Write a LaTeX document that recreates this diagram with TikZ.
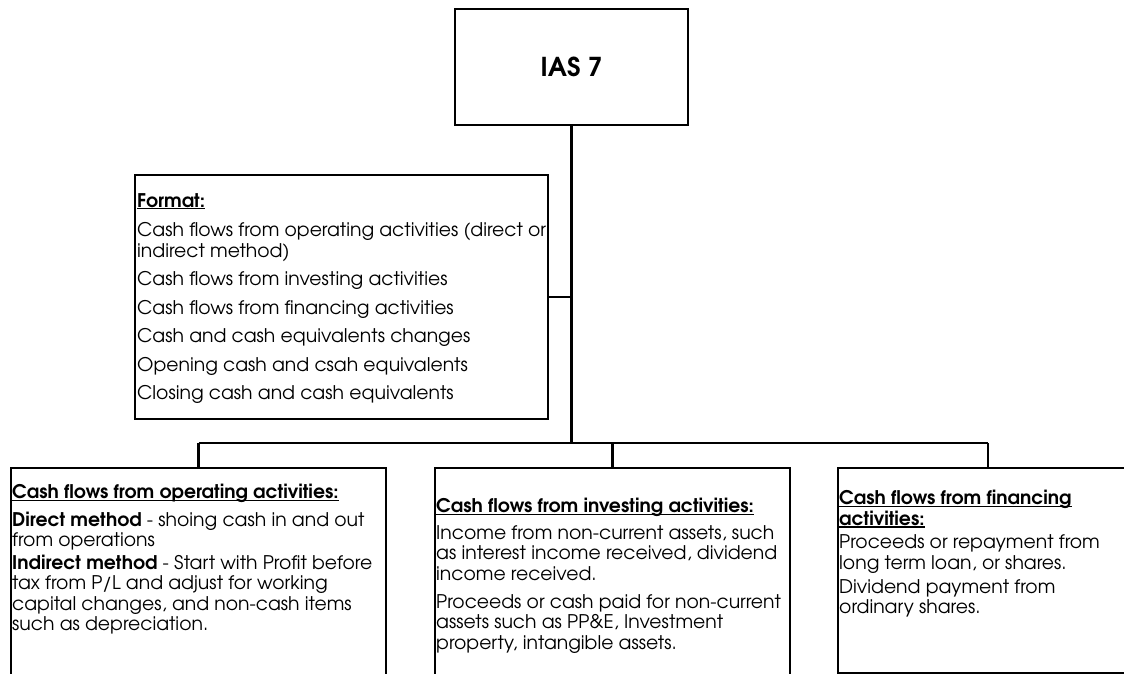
\documentclass[tikz,border=0pt]{standalone}
\usepackage{fontspec}
\setmainfont{TeX Gyre Adventor}
\newcommand\ulbox[1]{\setbox0\hbox{#1}\rlap{\rule[-2.4pt]{\wd0}{1.2pt}}\box0}
\tikzset{
  frame/.style={draw=black, line width=2pt, inner sep=0pt},
  link/.style={draw=black, line width=2.4pt},
  body/.style={anchor=north west, align=left, inner sep=0pt,
    font=\fontsize{18.8}{20.5}\selectfont}
}
\begin{document}
\begin{tikzpicture}[x=1pt,y=-1pt]
\useasboundingbox (0,0) rectangle (1124,674);
% top box
\node[frame, minimum width=233pt, minimum height=116pt,
  font=\fontsize{26}{30}\selectfont\bfseries] (ias) at (571.5,67) {IAS 7};
% format box
\node[frame, minimum width=413pt, minimum height=244pt] (fmt) at (341.5,297) {};
\node[body] (fmttxt) at (137,193) {\textbf{\ulbox{Format:}}\\[9pt]
Cash flows from operating activities (direct or\\
indirect method)\\[7.5pt]
Cash flows from investing activities\\[8.5pt]
Cash flows from financing activities\\[8pt]
Cash and cash equivalents changes\\[8pt]
Opening cash and csah equivalents\\[8pt]
Closing cash and cash equivalents};
% bottom boxes
\node[frame, anchor=north west, minimum width=375pt, minimum height=240pt] (op) at (10,467) {};
\node[frame, anchor=north west, minimum width=355pt, minimum height=240pt] (inv) at (434,467) {};
\node[frame, anchor=north west, minimum width=300pt, minimum height=205pt] (fin) at (837,467) {};
\node[body] (optxt) at (12,484) {\textbf{\ulbox{Cash flows from operating activities:}}\\[7pt]
\textbf{Direct method} - shoing cash in and out\\
from operations\\[2pt]
\textbf{Indirect method} - Start with Profit before\\
tax from P/L and adjust for working\\
capital changes, and non-cash items\\
such as depreciation.};
\node[body] (invtxt) at (436,498) {\textbf{\ulbox{Cash flows from investing activities:}}\\[6pt]
Income from non-current assets, such\\
as interest income received, dividend\\
income received.\\[7.5pt]
Proceeds or cash paid for non-current\\
assets such as PP\&E, Investment\\
property, intangible assets.};
\node[body] (fintxt) at (839,490) {\textbf{\ulbox{Cash flows from financing}}\\
\textbf{\ulbox{activities:}}\\[3pt]
Proceeds or repayment from\\
long term loan, or shares.\\[3.5pt]
Dividend payment from\\
ordinary shares.};
% connectors
\coordinate (bus) at (ias.south |- 0,443);
\coordinate (busl) at (op.north |- bus);
\coordinate (busr) at (fin.north |- bus);
\draw[link] (ias.south) -- (bus);
\draw[link] (fmt.east) -- (fmt.east -| ias.south);
\draw[link] (busl) -- (busr);
\draw[link] (busl) -- (op.north);
\draw[link] (inv.north |- bus) -- (inv.north);
\draw[link] (busr) -- (fin.north);
\end{tikzpicture}
\end{document}
